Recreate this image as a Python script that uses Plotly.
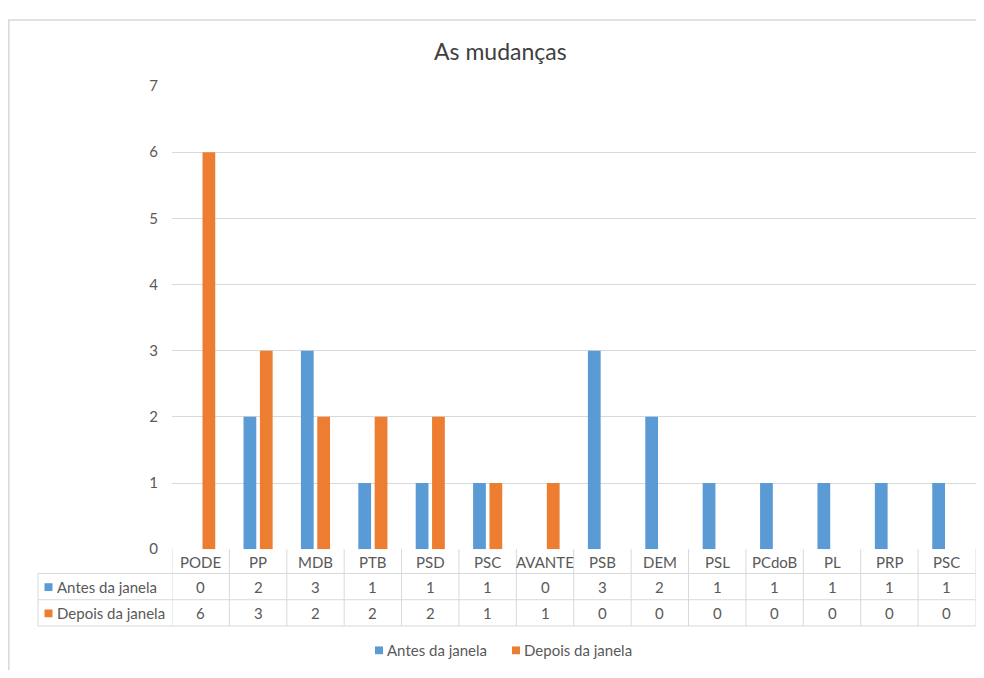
import plotly.graph_objects as go

categories = ["PODE", "PP", "MDB", "PTB", "PSD", "PSC", "AVANTE", "PSB", "DEM", "PSL", "PCdoB", "PL", "PRP", "PSC"]
antes = [0, 2, 3, 1, 1, 1, 0, 3, 2, 1, 1, 1, 1, 1]
depois = [6, 3, 2, 2, 2, 1, 1, 0, 0, 0, 0, 0, 0, 0]
series_names = ["Antes da janela", "Depois da janela"]
series_colors = ["#5B9BD5", "#ED7D31"]
y_ticks = [0, 1, 2, 3, 4, 5, 6, 7]
title_text = "As mudanças"

# page has an 8px body margin: figure sized so the page equals the 984x678 window
OFF = 8
W, H = 984 - 2 * OFF, 678 - 2 * OFF
FONT = "Lato"
TXT = "#595959"
GRID = "#D9D9D9"
FS = 15


def px(x):
    return (x - OFF) / W


def py(y):
    return 1 - (y - OFF) / H


x_idx = list(range(len(categories)))
series_values = [antes, depois]

fig = go.Figure()
for name, vals, col in zip(series_names, series_values, series_colors):
    fig.add_trace(go.Bar(x=x_idx, y=vals, name=name,
                         marker=dict(color=col, line=dict(width=0)),
                         showlegend=False))

shapes = []
annotations = []

# chart border (left and top)
shapes.append(dict(type="line", xref="paper", yref="paper", x0=px(8.8), x1=px(8.8), y0=py(10), y1=py(690),
                   line=dict(color=GRID, width=1.6)))
shapes.append(dict(type="line", xref="paper", yref="paper", x0=px(8), x1=px(1000), y0=py(10), y1=py(10),
                   line=dict(color=GRID, width=1.6)))

# data table grid
row_top, row1, row2, row_bot = 554, 579, 606, 633
for i in range(len(categories) + 1):
    shapes.append(dict(type="line", xref="x", yref="paper", x0=i - 0.5, x1=i - 0.5,
                       y0=py(row_top), y1=py(row_bot), line=dict(color=GRID, width=1)))
shapes.append(dict(type="line", xref="paper", yref="paper", x0=px(38), x1=px(38),
                   y0=py(row1), y1=py(row_bot), line=dict(color=GRID, width=1)))
for yy in (row1, row2, row_bot):
    shapes.append(dict(type="line", xref="paper", yref="paper", x0=px(38), x1=px(975.5),
                       y0=py(yy), y1=py(yy), line=dict(color=GRID, width=1)))

# header row and values
for i, cat in enumerate(categories):
    annotations.append(dict(x=i, xref="x", y=py(567), yref="paper", text=cat, showarrow=False,
                            font=dict(family=FONT, size=FS, color=TXT), xanchor="center", yanchor="middle"))
row_centers = [593, 620]
for vals, yc in zip(series_values, row_centers):
    for i, v in enumerate(vals):
        annotations.append(dict(x=i, xref="x", y=py(yc), yref="paper", text=str(v), showarrow=False,
                                font=dict(family=FONT, size=FS, color=TXT), xanchor="center", yanchor="middle"))

# row labels with keys
for name, col, yc in zip(series_names, series_colors, row_centers):
    shapes.append(dict(type="rect", xref="paper", yref="paper", x0=px(44.5), x1=px(52.5),
                       y0=py(yc - 4), y1=py(yc + 4), fillcolor=col, line=dict(width=0)))
    annotations.append(dict(x=px(55), xref="paper", y=py(yc), yref="paper", text=name, showarrow=False,
                            font=dict(family=FONT, size=FS, color=TXT), xanchor="left", yanchor="middle"))

# bottom legend
leg_x = [375, 512]
for name, col, lx in zip(series_names, series_colors, leg_x):
    shapes.append(dict(type="rect", xref="paper", yref="paper", x0=px(lx), x1=px(lx + 8),
                       y0=py(654), y1=py(662), fillcolor=col, line=dict(width=0)))
    annotations.append(dict(x=px(lx + 10), xref="paper", y=py(658), yref="paper", text=name, showarrow=False,
                            font=dict(family=FONT, size=FS, color=TXT), xanchor="left", yanchor="middle"))

# title
annotations.append(dict(x=px(500), xref="paper", y=py(42), yref="paper", text=title_text, showarrow=False,
                        font=dict(family=FONT, size=23, color="#404040"), xanchor="center", yanchor="middle"))

fig.update_layout(
    width=W, height=H,
    margin=dict(l=0, r=0, t=0, b=0),
    paper_bgcolor="white", plot_bgcolor="white",
    barmode="group", bargap=0.43, bargroupgap=0.22,
    shapes=shapes, annotations=annotations,
    showlegend=False,
    font=dict(family=FONT, color=TXT),
    xaxis=dict(domain=[px(172), px(975.5)], range=[-0.5, len(categories) - 0.5],
               showticklabels=False, showgrid=False, zeroline=False, showline=False, fixedrange=True),
    yaxis=dict(domain=[py(554), py(78)], range=[0, 7], tickvals=y_ticks,
               showgrid=True, gridcolor=GRID, gridwidth=1, zeroline=False, showline=False,
               ticks="", ticklabelstandoff=13, tickfont=dict(family=FONT, size=FS, color=TXT)),
)

fig.write_html("out.html", config={"displayModeBar": False})
